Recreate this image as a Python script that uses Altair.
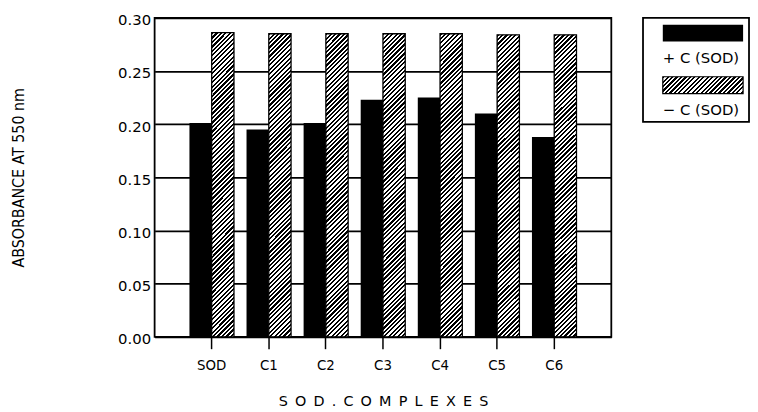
import altair as alt
import pandas as pd

# ---- data ----
categories = ["SOD", "C1", "C2", "C3", "C4", "C5", "C6"]
with_c = [0.201, 0.195, 0.201, 0.223, 0.225, 0.210, 0.188]      # + C (SOD), black bars
without_c = [0.286, 0.285, 0.285, 0.285, 0.285, 0.284, 0.284]   # - C (SOD), hatched bars
series_labels = ["+ C (SOD)", "\u2212 C (SOD)"]
y_ticks = [0.0, 0.05, 0.10, 0.15, 0.20, 0.25, 0.30]

rows = []
for c, a, b in zip(categories, with_c, without_c):
    rows.append({"complex": c, "series": series_labels[0], "absorbance": a})
    rows.append({"complex": c, "series": series_labels[1], "absorbance": b})
df = pd.DataFrame(rows)

leg_df = pd.DataFrame({"label": series_labels, "k": ["a", "a"]})


def hatch(w, h, period=4.5):
    """Diagonal (///) hatching as a striped linear gradient for a w x h box."""
    total = w + h
    f = period / total
    stops = []
    k = 0
    while k * f < 1:
        a = k * f
        m = min(a + f / 2, 1.0)
        e = min(a + f, 1.0)
        stops += [(a, "black"), (m, "black"), (m, "white"), (e, "white")]
        k += 1
    r = w / h
    s = total / (h * (1 + r * r))
    return alt.LinearGradient(
        gradient="linear",
        stops=[alt.GradientStop(offset=round(o, 5), color=c) for o, c in stops],
        x1=0, y1=0, x2=round(r * s, 5), y2=round(s, 5),
    )


W, H = 461, 322
LABEL_FONT = "DejaVu Sans"
COND_FONT = "DejaVu Sans Condensed"

x = alt.X(
    "complex:N",
    sort=categories,
    scale=alt.Scale(paddingInner=0.22, paddingOuter=0.61),
    axis=alt.Axis(
        title="S\u2002O\u2002D\u2002.\u2002C\u2002O\u2002M\u2002P\u2002L\u2002E\u2002X\u2002E\u2002S",
        labelAngle=0, ticks=True, tickSize=12, tickWidth=1.5, tickColor="black",
        labelPadding=9, domain=False, grid=False,
        labelFont=COND_FONT, labelFontSize=15, labelColor="black",
        titleFont=LABEL_FONT, titleFontSize=14.5, titleFontWeight="normal", titleColor="black",
        titleY=65, titleBaseline="middle",
    ),
)
y = alt.Y(
    "absorbance:Q",
    scale=alt.Scale(domain=[0, 0.30], nice=False),
    axis=alt.Axis(
        values=y_ticks, format=".2f", title="ABSORBANCE AT 550 nm",
        ticks=False, grid=True, gridColor="black", gridWidth=1.7, gridOpacity=1,
        domain=False, labelPadding=4, labelOffset=2,
        labelFont=LABEL_FONT, labelFontSize=15, labelColor="black",
        titleFont=COND_FONT, titleFontSize=16, titleFontWeight="normal", titleColor="black",
        titleX=-137, titleBaseline="middle",
    ),
)
xo = alt.XOffset(
    "series:N", sort=series_labels,
    scale=alt.Scale(domain=series_labels, paddingInner=0, paddingOuter=0),
)

base = alt.Chart(df).encode(x=x, y=y, xOffset=xo)
black = base.transform_filter(alt.datum.series == series_labels[0]).mark_bar(fill="black")
hatched = base.transform_filter(alt.datum.series == series_labels[1]).mark_bar(
    fill=hatch(22.5, 306), stroke="black", strokeWidth=1.3
)
main = alt.layer(black, hatched).properties(width=W, height=H)

# ---- legend panel ----
ly = alt.Y(
    "label:N", sort=series_labels,
    scale=alt.Scale(domain=series_labels, paddingInner=0.676, paddingOuter=0.338, align=0.197),
    axis=None,
)
lx = alt.X("k:N", scale=alt.Scale(paddingInner=0, paddingOuter=0.16, align=0.77), axis=None)
lbase = alt.Chart(leg_df)
l_black = lbase.transform_filter(alt.datum.label == series_labels[0]).mark_bar(fill="black").encode(x=lx, y=ly)
l_hatch = lbase.transform_filter(alt.datum.label == series_labels[1]).mark_bar(
    fill=hatch(81, 17), stroke="black", strokeWidth=1.2
).encode(x=lx, y=ly)
l_text = lbase.mark_text(
    align="left", baseline="middle", dy=25, fontSize=15, font=LABEL_FONT, color="black"
).encode(
    x=alt.X("k:N", bandPosition=0, scale=alt.Scale(paddingInner=0, paddingOuter=0.16, align=0.77), axis=None),
    y=ly, text="label:N",
)
legend = alt.layer(l_black, l_hatch, l_text).properties(width=107, height=105)

chart = (
    alt.hconcat(main, legend, spacing=30)
    .properties(padding={"left": 2, "top": 2, "right": 0, "bottom": 0}, background="white")
    .configure_view(stroke="black", strokeWidth=1.8)
)

chart.save("out.html", embed_options={"renderer": "svg", "actions": False})
